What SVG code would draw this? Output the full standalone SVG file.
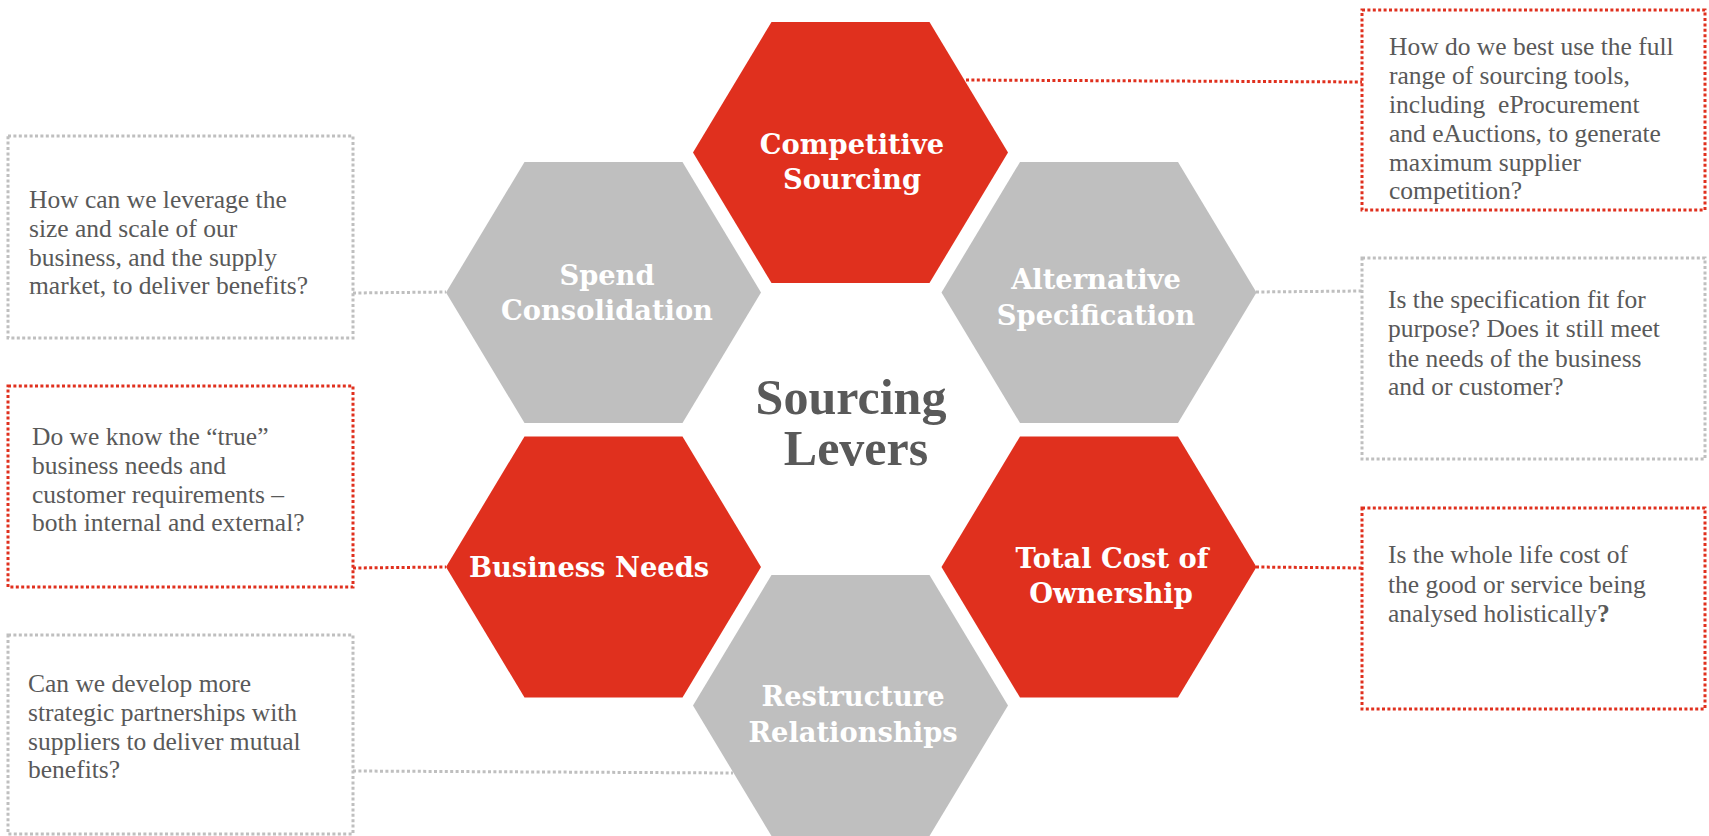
<svg xmlns="http://www.w3.org/2000/svg" width="1709" height="836" viewBox="0 0 1709 836">
<style>
  .hex-red { fill: #E0301E; }
  .hex-grey { fill: #BFBFBF; }
  .lbl { font-family: "DejaVu Serif", "Liberation Serif", serif; font-weight: bold; font-size: 27.3px; fill: #FFFFFF; text-anchor: middle; }
  .center { font-family: "Liberation Serif", "DejaVu Serif", serif; font-weight: bold; font-size: 50px; fill: #595959; text-anchor: middle; }
  .body { font-family: "Liberation Serif", "DejaVu Serif", serif; font-size: 25.5px; fill: #595959; white-space: pre; }
  .box-red { fill: none; stroke: #E0301E; stroke-width: 3; stroke-dasharray: 3 2.4; }
  .box-grey { fill: none; stroke: #BFBFBF; stroke-width: 3; stroke-dasharray: 3 2.4; }
  .con-red { fill: none; stroke: #E0301E; stroke-width: 3; stroke-dasharray: 3 2.4; }
  .con-grey { fill: none; stroke: #BFBFBF; stroke-width: 3; stroke-dasharray: 3 2.4; }
</style>
<defs>
  <polygon id="hex" points="-79,-130.5 79,-130.5 157.5,0 79,130.5 -79,130.5 -157.5,0"/>
</defs>
<rect x="0" y="0" width="1709" height="836" fill="#FFFFFF"/>

<g id="connectors">
  <line class="con-red" x1="966" y1="80" x2="1362" y2="82"/>
  <line class="con-grey" x1="1256" y1="292" x2="1362" y2="291"/>
  <line class="con-red" x1="1256" y1="567" x2="1362" y2="568"/>
  <line class="con-grey" x1="353" y1="293" x2="446" y2="292"/>
  <line class="con-red" x1="353" y1="568" x2="446" y2="567"/>
  <line class="con-grey" x1="353" y1="771" x2="733" y2="773"/>
</g>

<g id="hex-competitive-sourcing">
  <use href="#hex" class="hex-red" x="850.5" y="152.5"/>
  <text class="lbl"><tspan x="852" y="154">Competitive</tspan><tspan x="852" y="189">Sourcing</tspan></text>
</g>
<g id="hex-spend-consolidation">
  <use href="#hex" class="hex-grey" x="603.5" y="292.5"/>
  <text class="lbl"><tspan x="607" y="285">Spend</tspan><tspan x="607" y="320">Consolidation</tspan></text>
</g>
<g id="hex-alternative-specification">
  <use href="#hex" class="hex-grey" x="1099" y="292.5"/>
  <text class="lbl"><tspan x="1096" y="289">Alternative</tspan><tspan x="1096" y="325">Specification</tspan></text>
</g>
<g id="hex-business-needs">
  <use href="#hex" class="hex-red" x="603.5" y="567"/>
  <text class="lbl" x="589" y="577">Business Needs</text>
</g>
<g id="hex-total-cost">
  <use href="#hex" class="hex-red" x="1099" y="567"/>
  <text class="lbl"><tspan x="1112" y="568">Total Cost of</tspan><tspan x="1111" y="603">Ownership</tspan></text>
</g>
<g id="hex-restructure-relationships">
  <use href="#hex" class="hex-grey" x="850.5" y="705.5"/>
  <text class="lbl"><tspan x="853" y="706">Restructure</tspan><tspan x="853" y="742">Relationships</tspan></text>
</g>

<g id="center-title">
  <text class="center"><tspan x="851" y="414">Sourcing</tspan><tspan x="856" y="465">Levers</tspan></text>
</g>

<g id="box-spend">
  <rect class="box-grey" x="8" y="136" width="345" height="202"/>
  <text class="body" x="29" y="208">How can we leverage the</text>
  <text class="body" x="29" y="237">size and scale of our</text>
  <text class="body" x="29" y="266">business, and the supply</text>
  <text class="body" x="29" y="294">market, to deliver benefits?</text>
</g>
<g id="box-business">
  <rect class="box-red" x="8" y="386" width="345" height="201"/>
  <text class="body" x="32" y="445">Do we know the “true”</text>
  <text class="body" x="32" y="474">business needs and</text>
  <text class="body" x="32" y="503">customer requirements –</text>
  <text class="body" x="32" y="531">both internal and external?</text>
</g>
<g id="box-restructure">
  <rect class="box-grey" x="8" y="635" width="345" height="199"/>
  <text class="body" x="28" y="692">Can we develop more</text>
  <text class="body" x="28" y="721">strategic partnerships with</text>
  <text class="body" x="28" y="750">suppliers to deliver mutual</text>
  <text class="body" x="28" y="778">benefits?</text>
</g>
<g id="box-competitive">
  <rect class="box-red" x="1362" y="10" width="343" height="200"/>
  <text class="body" x="1389" y="55">How do we best use the full</text>
  <text class="body" x="1389" y="84">range of sourcing tools,</text>
  <text class="body" x="1389" y="113">including  eProcurement</text>
  <text class="body" x="1389" y="142">and eAuctions, to generate</text>
  <text class="body" x="1389" y="171">maximum supplier</text>
  <text class="body" x="1389" y="199">competition?</text>
</g>
<g id="box-alternative">
  <rect class="box-grey" x="1362" y="258" width="343" height="201"/>
  <text class="body" x="1388" y="308">Is the specification fit for</text>
  <text class="body" x="1388" y="337">purpose? Does it still meet</text>
  <text class="body" x="1388" y="367">the needs of the business</text>
  <text class="body" x="1388" y="395">and or customer?</text>
</g>
<g id="box-total-cost">
  <rect class="box-red" x="1362" y="508" width="343" height="201"/>
  <text class="body" x="1388" y="563">Is the whole life cost of</text>
  <text class="body" x="1388" y="593">the good or service being</text>
  <text class="body" x="1388" y="622">analysed holistically<tspan font-weight="bold">?</tspan></text>
</g>
</svg>
